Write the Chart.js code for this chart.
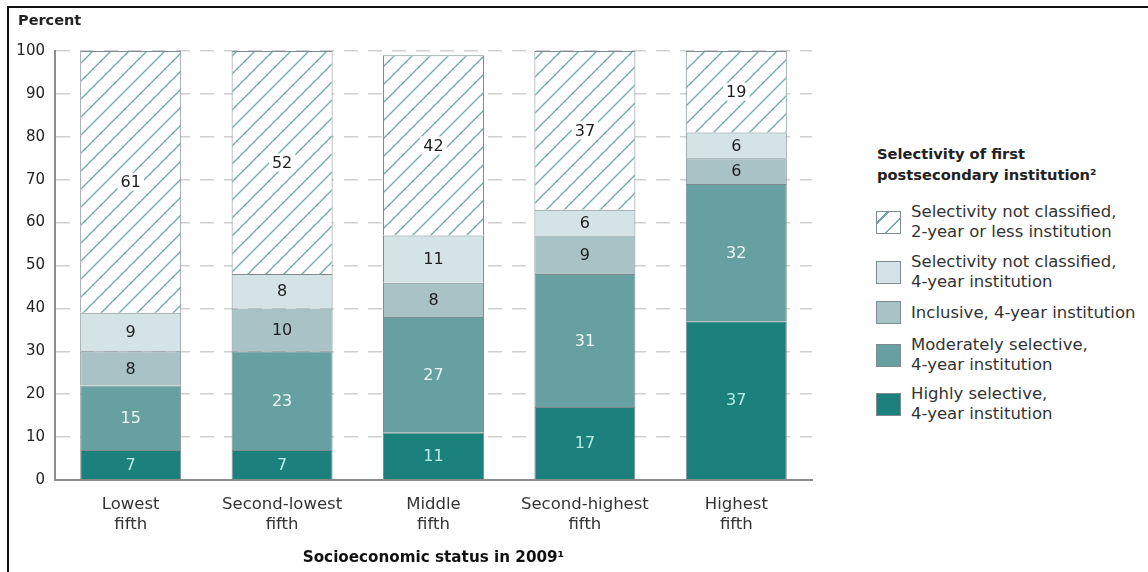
<!DOCTYPE html>
<html>
<head>
<meta charset="utf-8">
<title>Selectivity of first postsecondary institution</title>
<script src="https://cdn.jsdelivr.net/npm/chart.js@4.4.1/dist/chart.umd.min.js"></script>
<style>
  body { margin: 0; background: #fff; font-family: "DejaVu Sans", sans-serif; color: #222; }
  #frame { position: absolute; left: 7px; top: 6px; width: 1200px; height: 620px; border-top: 2px solid #111; border-left: 2px solid #111; }
  #wrap { position: absolute; left: 0; top: 0; width: 830px; height: 572px; }
  #ylabel { position: absolute; left: 18px; top: 12px; font-weight: bold; font-size: 14.5px; }
  #legendTitle { position: absolute; left: 877px; top: 143px; font-weight: bold; font-size: 14.7px; line-height: 21px; }
  .item { position: absolute; left: 876px; display: flex; align-items: center; font-size: 16.5px; line-height: 20px; color: #333; }
  .swatch { width: 23px; height: 21px; border: 1px solid #7e8c8f; margin-right: 10px; flex: none; }
</style>
</head>
<body>
<div id="frame"></div>
<div id="wrap"><canvas id="allChart" width="830" height="572"></canvas></div>
<div id="ylabel">Percent</div>
<div id="legendTitle">Selectivity of first<br>postsecondary institution²</div>
<div id="legend"></div>
<script>
const categories = [['Lowest', 'fifth'], ['Second-lowest', 'fifth'], ['Middle', 'fifth'], ['Second-highest', 'fifth'], ['Highest', 'fifth']];
const highlySelective = [7, 7, 11, 17, 37];
const moderatelySelective = [15, 23, 27, 31, 32];
const inclusive = [8, 10, 8, 9, 6];
const notClassified4yr = [9, 8, 11, 6, 6];
const notClassified2yr = [61, 52, 42, 37, 19];
const yTicks = [0, 10, 20, 30, 40, 50, 60, 70, 80, 90, 100];

const legendNames = [
  ['Selectivity not classified,', '2-year or less institution'],
  ['Selectivity not classified,', '4-year institution'],
  ['Inclusive, 4-year institution'],
  ['Moderately selective,', '4-year institution'],
  ['Highly selective,', '4-year institution']
];

// diagonal hatch used for the 2-year segments
function makeHatch() {
  const c = document.createElement('canvas');
  c.width = 18; c.height = 18;
  const g = c.getContext('2d');
  g.fillStyle = '#fff';
  g.fillRect(0, 0, 18, 18);
  g.strokeStyle = '#6eaaa8';
  g.lineWidth = 1.3;
  g.beginPath();
  g.moveTo(-2, 20); g.lineTo(20, -2);
  g.moveTo(-2, 2); g.lineTo(2, -2);
  g.moveTo(16, 20); g.lineTo(20, 16);
  g.stroke();
  return g.createPattern(c, 'repeat');
}

// writes each segment's value in the middle of it
const segmentLabels = {
  id: 'segmentLabels',
  afterDatasetsDraw(chart) {
    const ctx = chart.ctx;
    ctx.save();
    ctx.font = '16px "DejaVu Sans", sans-serif';
    ctx.textAlign = 'center';
    ctx.textBaseline = 'middle';
    chart.data.datasets.forEach((ds, i) => {
      const meta = chart.getDatasetMeta(i);
      meta.data.forEach((bar, j) => {
        const p = bar.getProps(['x', 'y', 'base'], true);
        const cy = (p.y + p.base) / 2;
        const text = String(ds.data[j]);
        if (ds.labelBox) {
          const w = ctx.measureText(text).width;
          ctx.fillStyle = '#fff';
          ctx.fillRect(p.x - w / 2 - 3, cy - 9, w + 6, 18);
        }
        ctx.fillStyle = ds.labelColor;
        ctx.fillText(text, p.x, cy + 1);
      });
    });
    ctx.restore();
  }
};

const hatch = makeHatch();
const barBorder = '#7e8c8f';

Chart.defaults.font.family = '"DejaVu Sans", sans-serif';

window.allChart = new Chart(document.getElementById('allChart'), {
  type: 'bar',
  data: {
    labels: categories,
    datasets: [
      { label: 'Highly selective', data: highlySelective, backgroundColor: '#1c807d', labelColor: '#b8ebe4' },
      { label: 'Moderately selective', data: moderatelySelective, backgroundColor: '#66a0a1', labelColor: '#eef6f6' },
      { label: 'Inclusive', data: inclusive, backgroundColor: '#a8c2c6', labelColor: '#1e1e1e' },
      { label: 'Not classified, 4-year', data: notClassified4yr, backgroundColor: '#d4e3e6', labelColor: '#1e1e1e' },
      { label: 'Not classified, 2-year', data: notClassified2yr, backgroundColor: hatch, labelColor: '#1e1e1e', labelBox: true }
    ].map(ds => Object.assign(ds, { borderColor: barBorder, borderWidth: 1, categoryPercentage: 1, barPercentage: 0.667 }))
  },
  options: {
    responsive: false,
    animation: false,
    layout: { padding: { top: 51, right: 18, left: 0, bottom: 0 } },
    scales: {
      x: {
        stacked: true,
        grid: { display: false },
        border: { display: true, color: '#8c8c8c', width: 2 },
        ticks: { font: { size: 16.5 }, color: '#333', padding: 7, maxRotation: 0, autoSkip: false },
        title: { display: true, text: 'Socioeconomic status in 2009¹', font: { size: 15.2, weight: 'bold' }, color: '#111', padding: { top: 0, bottom: 5 } },
        afterFit(s) { s.height = 92; }
      },
      y: {
        stacked: true,
        min: 0,
        max: 100,
        afterBuildTicks(s) { s.ticks = yTicks.map(v => ({ value: v })); },
        ticks: { font: { size: 15 }, color: '#222', padding: 10 },
        grid: { color: '#d0d0d0', lineWidth: 1.5, drawTicks: false },
        border: { display: true, color: '#8c8c8c', width: 2, dash: [14, 10] },
        afterFit(s) { s.width = 55; }
      }
    },
    plugins: {
      legend: false,
      tooltip: { enabled: false }
    }
  },
  plugins: [segmentLabels]
});

// legend on the right, top item is the top of the stack
const swatches = [
  'repeating-linear-gradient(135deg, #fff 0 7px, #6eaaa8 7px 8.5px, #fff 8.5px 13px)',
  '#d4e3e6', '#a8c2c6', '#66a0a1', '#1c807d'
];
const itemTops = [202, 252, 301, 335, 384];
const legend = document.getElementById('legend');
legendNames.forEach((lines, i) => {
  const item = document.createElement('div');
  item.className = 'item';
  item.style.top = itemTops[i] + 'px';
  const sw = document.createElement('div');
  sw.className = 'swatch';
  sw.style.background = swatches[i];
  const txt = document.createElement('div');
  txt.innerHTML = lines.join('<br>');
  item.appendChild(sw);
  item.appendChild(txt);
  legend.appendChild(item);
});
</script>
</body>
</html>
